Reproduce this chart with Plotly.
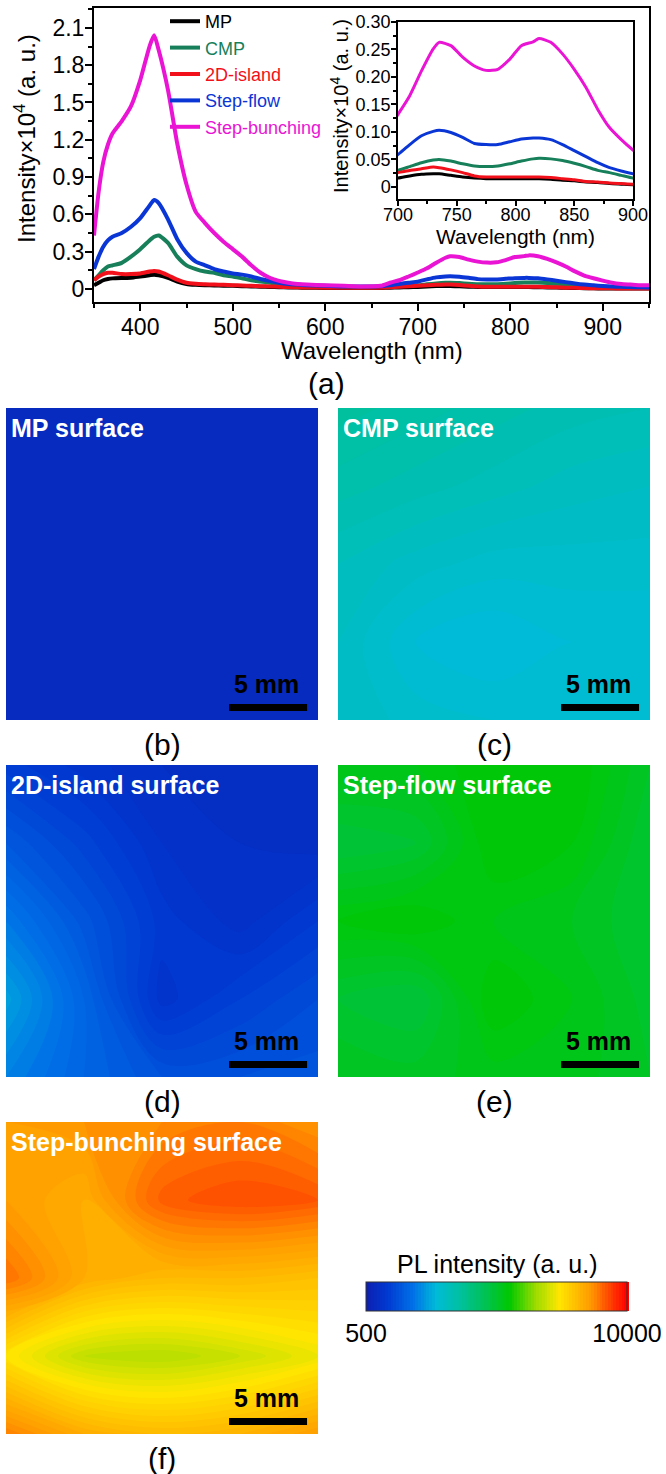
import plotly.graph_objects as go

W, H = 666, 1474
FONT = "Liberation Sans, Arial, sans-serif"

# ---------------- spectra data (a) ----------------
wl = [350, 355, 360, 365, 370, 380, 390, 400, 410, 415, 420, 430, 440, 450, 460, 470,
      480, 490, 500, 510, 520, 530, 540, 550, 560, 570, 580, 600, 620, 640, 660, 670,
      680, 690, 700, 710, 720, 730, 735, 745, 755, 765, 775, 785, 795, 805, 815, 820,
      830, 840, 850, 860, 870, 880, 890, 900, 910, 920, 930, 940, 950]

mp = [0.03, 0.05, 0.07, 0.08, 0.085, 0.088, 0.09, 0.10, 0.11, 0.115, 0.11, 0.09, 0.06, 0.04,
      0.033, 0.03, 0.028, 0.026, 0.025, 0.022, 0.02, 0.018, 0.016, 0.014, 0.012, 0.011, 0.01,
      0.008, 0.007, 0.007, 0.008, 0.01, 0.012, 0.014, 0.016, 0.02, 0.023, 0.024, 0.024, 0.021,
      0.018, 0.016, 0.015, 0.015, 0.015, 0.015, 0.015, 0.015, 0.014, 0.012, 0.011, 0.009,
      0.008, 0.006, 0.005, 0.004, 0.004, 0.004, 0.004, 0.004, 0.004]

cmp_sp = [0.07, 0.11, 0.15, 0.18, 0.19, 0.21, 0.26, 0.32, 0.39, 0.42, 0.43, 0.37, 0.26, 0.19,
          0.16, 0.14, 0.13, 0.11, 0.10, 0.085, 0.07, 0.06, 0.05, 0.04, 0.03, 0.025, 0.02,
          0.018, 0.015, 0.014, 0.015, 0.018, 0.022, 0.026, 0.030, 0.037, 0.044, 0.049, 0.050,
          0.047, 0.042, 0.038, 0.037, 0.038, 0.042, 0.047, 0.051, 0.052, 0.051, 0.048, 0.043,
          0.037, 0.030, 0.026, 0.021, 0.016, 0.013, 0.011, 0.010, 0.009, 0.008]

island = [0.07, 0.10, 0.12, 0.13, 0.13, 0.12, 0.12, 0.125, 0.14, 0.145, 0.14, 0.11, 0.075, 0.05,
          0.042, 0.038, 0.035, 0.033, 0.03, 0.028, 0.025, 0.022, 0.02, 0.018, 0.015, 0.013, 0.012,
          0.01, 0.009, 0.009, 0.01, 0.013, 0.017, 0.022, 0.026, 0.03, 0.033, 0.036, 0.035, 0.031,
          0.026, 0.020, 0.018, 0.018, 0.018, 0.018, 0.018, 0.018, 0.017, 0.015, 0.013, 0.010,
          0.009, 0.007, 0.006, 0.005, 0.005, 0.004, 0.004, 0.004, 0.004]

stepflow = [0.16, 0.26, 0.34, 0.39, 0.42, 0.45, 0.50, 0.57, 0.67, 0.715, 0.69, 0.56, 0.40, 0.29,
            0.22, 0.19, 0.16, 0.14, 0.125, 0.115, 0.10, 0.08, 0.065, 0.05, 0.04, 0.035, 0.03,
            0.025, 0.02, 0.02, 0.022, 0.03, 0.04, 0.05, 0.059, 0.077, 0.093, 0.101, 0.103, 0.099,
            0.09, 0.079, 0.077, 0.077, 0.082, 0.087, 0.089, 0.089, 0.086, 0.077, 0.066, 0.055,
            0.044, 0.035, 0.029, 0.024, 0.02, 0.017, 0.015, 0.013, 0.012]

stepbunch = [0.43, 0.78, 1.02, 1.16, 1.25, 1.35, 1.47, 1.68, 1.95, 2.04, 1.92, 1.60, 1.17, 0.84,
             0.62, 0.53, 0.45, 0.38, 0.32, 0.26, 0.19, 0.13, 0.09, 0.065, 0.05, 0.04, 0.035,
             0.03, 0.025, 0.02, 0.025, 0.05, 0.07, 0.10, 0.132, 0.166, 0.211, 0.251, 0.263, 0.257,
             0.236, 0.220, 0.212, 0.214, 0.232, 0.257, 0.264, 0.270, 0.263, 0.242, 0.214, 0.181,
             0.141, 0.108, 0.086, 0.067, 0.05, 0.04, 0.035, 0.03, 0.03]

series_names = ["MP", "CMP", "2D-island", "Step-flow", "Step-bunching"]
series_values = [mp, cmp_sp, island, stepflow, stepbunch]
series_colors = ["#000000", "#17805a", "#f2101a", "#0b36d6", "#ea14d4"]

main_xticks = [400, 500, 600, 700, 800, 900]
main_yticks = [0, 0.3, 0.6, 0.9, 1.2, 1.5, 1.8, 2.1]
main_yticklabels = ["0", "0.3", "0.6", "0.9", "1.2", "1.5", "1.8", "2.1"]
inset_xticks = [700, 750, 800, 850, 900]
inset_yticks = [0, 0.05, 0.10, 0.15, 0.20, 0.25, 0.30]
inset_yticklabels = ["0", "0.05", "0.10", "0.15", "0.20", "0.25", "0.30"]

# ---------------- PL maps (b)-(f), rows listed top (20 mm) to bottom (0 mm) ----------------
map_x = [0, 5, 10, 15, 20]
map_y_top_first = [20, 15, 10, 5, 0]

mp_map = [[880, 870, 860, 860, 870],
          [880, 870, 860, 860, 860],
          [890, 880, 870, 860, 860],
          [890, 880, 870, 870, 870],
          [890, 880, 880, 870, 870]]
cmp_map = [[3950, 3850, 3750, 3650, 3600],
           [3750, 3650, 3550, 3450, 3400],
           [3500, 3350, 3250, 3250, 3250],
           [3400, 3100, 3000, 3100, 3100],
           [3400, 3250, 3200, 3150, 3150]]
island_map = [[1350, 1150, 1000, 950, 950],
              [1800, 1450, 1100, 1000, 950],
              [2300, 1750, 1250, 1050, 1300],
              [2750, 2000, 1150, 1400, 1600],
              [2400, 2000, 1700, 1700, 1750]]
stepflow_map = [[5500, 5500, 5700, 5700, 5300],
                [5100, 5200, 5700, 5600, 5200],
                [5600, 5700, 5500, 5400, 5200],
                [5200, 5100, 5700, 5500, 5250],
                [5400, 5350, 5450, 5450, 5300]]
stepbunch_map = [[8600, 8700, 8800, 8900, 8700],
                 [8600, 8400, 9150, 9300, 9200],
                 [9000, 8400, 8200, 8200, 8100],
                 [7600, 7000, 6900, 7100, 7400],
                 [8900, 8400, 8200, 8300, 8600]]

map_grids = [mp_map, cmp_map, island_map, stepflow_map, stepbunch_map]
map_titles = ["MP surface", "CMP surface", "2D-island surface", "Step-flow surface",
              "Step-bunching surface"]
map_panel_labels = ["(b)", "(c)", "(d)", "(e)", "(f)"]
cbar_min, cbar_max = 500, 10000
cbar_ticklabels = ["500", "10000"]
scale_bar_mm = 5

pl_colorscale = [
    [0.00, "#0d1fb0"], [0.08, "#0038d0"], [0.18, "#0070e8"], [0.27, "#00bcd8"],
    [0.36, "#00c0a0"], [0.46, "#00c250"], [0.55, "#00c800"], [0.65, "#9cdc00"],
    [0.74, "#ffe600"], [0.86, "#ff9a00"], [0.95, "#ff3000"], [1.00, "#ff0000"],
]


def px(p):
    return p / W


def py(p):
    return 1 - p / H


fig = go.Figure()

# main spectra + inset
for name, vals, col in zip(series_names, series_values, series_colors):
    fig.add_trace(go.Scatter(
        x=wl, y=vals, mode="lines", xaxis="x", yaxis="y",
        line=dict(color=col, width=4, shape="spline", smoothing=0.6),
        name=f'<span style="color:{col}">{name}</span>', showlegend=True))
for name, vals, col in zip(series_names, series_values, series_colors):
    fig.add_trace(go.Scatter(
        x=wl, y=vals, mode="lines", xaxis="x2", yaxis="y2",
        line=dict(color=col, width=3, shape="spline", smoothing=0.6),
        name=name, showlegend=False))

# maps
map_boxes = [  # (left, top) pixel of each map, size 312
    (6, 408), (338, 408), (6, 765), (338, 765), (6, 1122)]
MAP_PX = 312
layout_axes = {}
annotations = []
shapes = []
for i, (grid, title, lab, (lx, ty)) in enumerate(zip(map_grids, map_titles, map_panel_labels, map_boxes)):
    k = i + 3
    xa, ya = f"x{k}", f"y{k}"
    last = (i == len(map_grids) - 1)
    fig.add_trace(go.Contour(
        x=map_x, y=map_y_top_first[::-1], z=grid[::-1], xaxis=xa, yaxis=ya,
        colorscale=pl_colorscale, zmin=cbar_min, zmax=cbar_max, zauto=False,
        autocontour=False,
        contours=dict(start=cbar_min, end=cbar_max, size=100, coloring="fill", showlines=False),
        line=dict(width=0), showscale=last, hoverinfo="skip",
        colorbar=dict(
            orientation="h", x=px(496.5), xanchor="center", y=py(1311), yanchor="middle",
            len=261 / W, lenmode="fraction", thickness=29, thicknessmode="pixels",
            xpad=0, ypad=0, outlinewidth=1, outlinecolor="#333333",
            tickvals=[cbar_min, cbar_max], ticktext=cbar_ticklabels, ticks="",
            tickfont=dict(size=25, color="black", family=FONT),
        ) if last else None,
    ))
    layout_axes[f"xaxis{k}"] = dict(domain=[px(lx), px(lx + MAP_PX)], range=[0, 20], visible=False,
                                    anchor=ya, fixedrange=True, automargin=False)
    layout_axes[f"yaxis{k}"] = dict(domain=[py(ty + MAP_PX), py(ty)], range=[0, 20], visible=False,
                                    anchor=xa, fixedrange=True, automargin=False)
    annotations.append(dict(text=f"<b>{title}</b>", xref=xa, yref=ya, x=0.2, y=18.75,
                            xanchor="left", yanchor="middle", showarrow=False,
                            font=dict(size=25, color="white", family=FONT)))
    annotations.append(dict(text=f"<b>{scale_bar_mm} mm</b>", xref=xa, yref=ya, x=16.7, y=2.3,
                            xanchor="center", yanchor="middle", showarrow=False,
                            font=dict(size=25, color="black", family=FONT)))
    shapes.append(dict(type="rect", xref=xa, yref=ya, x0=14.3, x1=14.3 + scale_bar_mm,
                       y0=0.58, y1=1.03, fillcolor="black", line=dict(width=0)))
    annotations.append(dict(text=lab, xref="paper", yref="paper", x=px(lx + MAP_PX / 2),
                            y=py(ty + MAP_PX + 24), xanchor="center", yanchor="middle",
                            showarrow=False, font=dict(size=30, color="black", family=FONT)))

# titles
annotations += [
    dict(text="Intensity×10<sup>4</sup> (a. u.)", xref="paper", yref="paper", x=px(25), y=py(139),
         textangle=-90, showarrow=False, xanchor="center", yanchor="middle",
         font=dict(size=24, color="black", family=FONT)),
    dict(text="Wavelength (nm)", xref="paper", yref="paper", x=px(372), y=py(351),
         showarrow=False, xanchor="center", yanchor="middle",
         font=dict(size=24, color="black", family=FONT)),
    dict(text="(a)", xref="paper", yref="paper", x=px(326), y=py(383),
         showarrow=False, xanchor="center", yanchor="middle",
         font=dict(size=30, color="black", family=FONT)),
    dict(text="Intensity×10<sup>4</sup> (a. u.)", xref="paper", yref="paper", x=px(339), y=py(106),
         textangle=-90, showarrow=False, xanchor="center", yanchor="middle",
         font=dict(size=20, color="black", family=FONT)),
    dict(text="Wavelength (nm)", xref="paper", yref="paper", x=px(515), y=py(237),
         showarrow=False, xanchor="center", yanchor="middle",
         font=dict(size=21, color="black", family=FONT)),
    dict(text="PL intensity (a. u.)", xref="paper", yref="paper", x=px(497), y=py(1264),
         showarrow=False, xanchor="center", yanchor="middle",
         font=dict(size=25, color="black", family=FONT)),
]

axis_common = dict(showgrid=False, zeroline=False, showline=True, linecolor="black",
                   mirror=True, ticks="outside", tickcolor="black", automargin=False)

fig.update_layout(
    width=W, height=H, margin=dict(l=0, r=0, t=0, b=0, autoexpand=False),
    paper_bgcolor="white", plot_bgcolor="rgba(0,0,0,0)",
    font=dict(family=FONT, color="black"),
    showlegend=True,
    legend=dict(x=px(165), y=py(3), xanchor="left", yanchor="top", bgcolor="rgba(0,0,0,0)",
                font=dict(size=18, family=FONT), tracegroupgap=0, itemwidth=30),
    xaxis=dict(domain=[px(94), px(649)], range=[350, 950], anchor="y", tickvals=main_xticks,
               ticklen=7, tickwidth=2, linewidth=2, tickfont=dict(size=23), ticklabelstandoff=-4,
               minor=dict(ticks="outside", ticklen=4, tickwidth=2, dtick=50, tick0=350, tickcolor="black"),
               **axis_common),
    yaxis=dict(domain=[py(302), py(8)], range=[-0.105, 2.26], anchor="x", tickvals=main_yticks,
               ticktext=main_yticklabels, ticklen=7, tickwidth=2, linewidth=2, tickfont=dict(size=23),
               ticklabelstandoff=-4,
               minor=dict(ticks="outside", ticklen=4, tickwidth=2, dtick=0.15, tick0=0, tickcolor="black"),
               **axis_common),
    xaxis2=dict(domain=[px(398), px(633)], range=[700, 900], anchor="y2", tickvals=inset_xticks,
                ticklen=5, tickwidth=1.5, linewidth=1.5, tickfont=dict(size=18), ticklabelstandoff=-6,
                minor=dict(ticks="outside", ticklen=3, tickwidth=1.5, dtick=25, tick0=700, tickcolor="black"),
                **axis_common),
    yaxis2=dict(domain=[py(199), py(22)], range=[-0.022, 0.30], anchor="x2", tickvals=inset_yticks,
                ticktext=inset_yticklabels, ticklen=5, tickwidth=1.5, linewidth=1.5, tickfont=dict(size=18),
                ticklabelstandoff=-3,
                minor=dict(ticks="outside", ticklen=3, tickwidth=1.5, dtick=0.025, tick0=0, tickcolor="black"),
                **axis_common),
    annotations=annotations,
    shapes=shapes,
    **layout_axes,
)

fig.write_html("out.html")
